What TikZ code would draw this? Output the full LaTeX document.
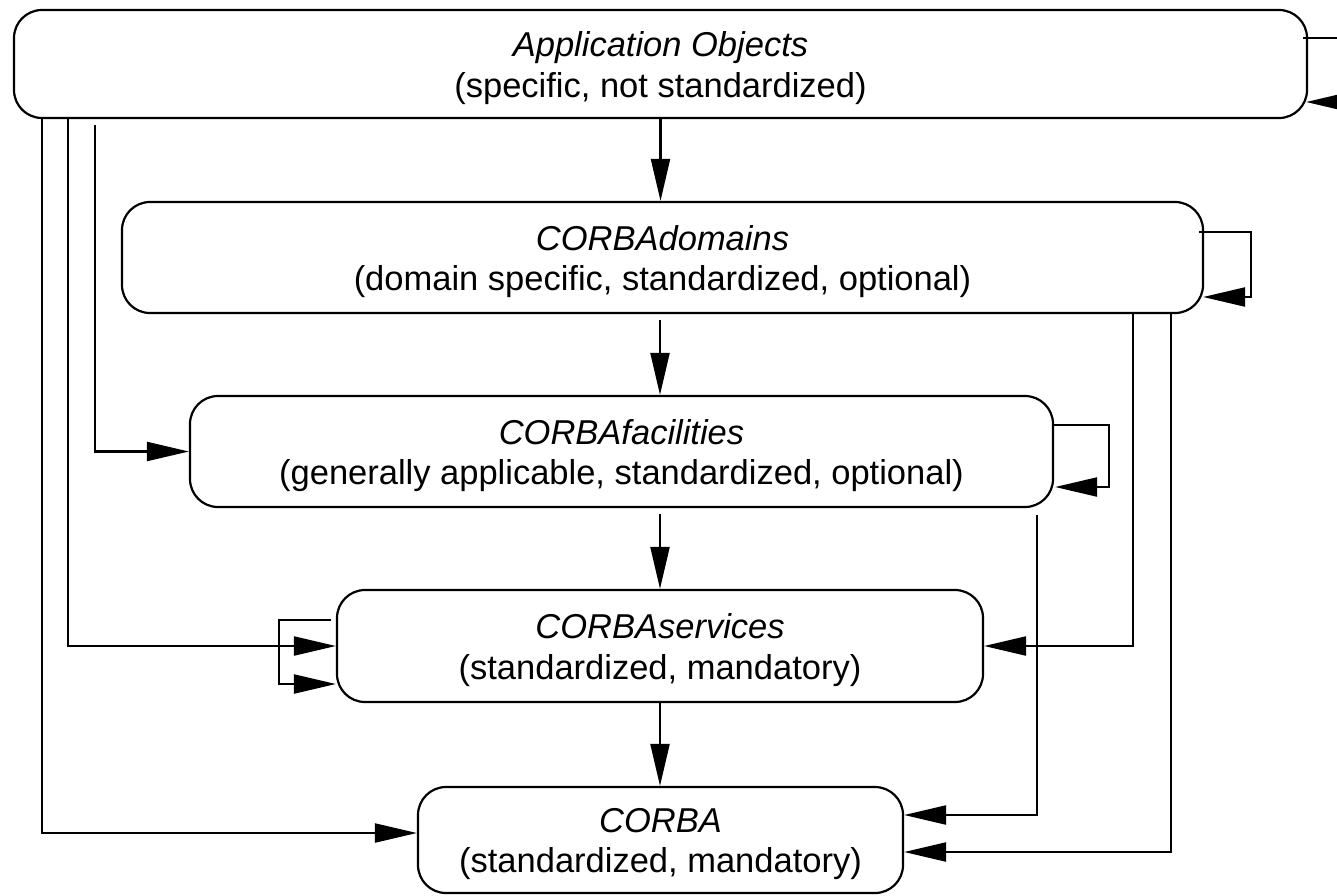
\documentclass[tikz,border=0pt]{standalone}
\usepackage{fontspec}
\setmainfont{Liberation Sans}
\usetikzlibrary{arrows.meta}
\tikzset{
  layer/.style={draw, line width=2.2pt, rounded corners=28pt, inner sep=0pt},
  caption/.style={inner sep=0pt, align=center, yshift=-4pt,
    font=\fontsize{34.5pt}{40.5pt}\selectfont},
  link/.style={draw, line width=2.2pt, -{Triangle[length=42pt,width=19pt]}}
}
\begin{document}
\begin{tikzpicture}[x=1pt,y=-1pt]
\useasboundingbox (0,0) rectangle (1337,895);

% the five layers of the architecture
\node[layer, minimum width=1293pt, minimum height=108pt] (app) at (660.5,64) {};
\node[caption] (appT) at (app.center)
  {\textit{Application Objects}\\(specific, not standardized)};
\node[layer, minimum width=1081pt, minimum height=111pt] (dom) at (662.5,257.5) {};
\node[caption] (domT) at (dom.center)
  {\textit{CORBAdomains}\\(domain specific, standardized, optional)};
\node[layer, minimum width=863pt, minimum height=111pt] (fac) at (621.5,451.5) {};
\node[caption] (facT) at (fac.center)
  {\textit{CORBAfacilities}\\(generally applicable, standardized, optional)};
\node[layer, minimum width=646pt, minimum height=112pt] (srv) at (660,646) {};
\node[caption] (srvT) at (srv.center)
  {\textit{CORBAservices}\\(standardized, mandatory)};
\node[layer, minimum width=485pt, minimum height=106pt] (corba) at (660.5,840) {};
\node[caption] (corbaT) at (corba.center)
  {\textit{CORBA}\\(standardized, mandatory)};

% layer-to-layer dependencies down the middle
\draw[link] (app.south) -- (app.south |- dom.north);
\draw[link] ([yshift=-6pt]dom.south -| srv.south) -- (srv.south |- fac.north);
\draw[link] ([yshift=-6pt]fac.south -| srv.south) -- (srv.south |- srv.north);
\draw[link] (srv.south) -- (srv.south |- corba.north);

% application objects reaching lower layers on the left
\coordinate (xa) at (42,0);
\coordinate (xb) at (68,0);
\coordinate (xc) at (95,0);
\draw[link] (app.south -| xa) |- ([yshift=7pt]corba.west);
\draw[link] (app.south -| xb) |- (srv.west);
\draw[link] ([yshift=-6pt]app.south -| xc) |- (fac.west);

% domain and facility layers reaching lower layers on the right
\coordinate (xd) at (1133,0);
\coordinate (xe) at (1171,0);
\coordinate (xf) at (1037,0);
\draw[link] (dom.south -| xd) |- (srv.east);
\draw[link] (dom.south -| xe) |- ([yshift=-12pt]corba.east);
\draw[link] ([yshift=-7pt]fac.south -| xf) |- ([yshift=25pt]corba.east);

% self references
\draw[link] ([shift={(-5pt,26pt)}]app.east) -- ++(60pt,0) |- ([shift={(-2pt,-38pt)}]app.east);
\draw[link] ([shift={(-5pt,25.5pt)}]dom.east) -| ([shift={(47pt,-39.5pt)}]dom.east) -- ([shift={(-1pt,-39.5pt)}]dom.east);
\draw[link] ([shift={(0pt,26.5pt)}]fac.east) -| ([shift={(55pt,-35.5pt)}]fac.east) -- ([shift={(1pt,-35.5pt)}]fac.east);
\draw[link] ([shift={(-5pt,26pt)}]srv.west) -| ([shift={(-57pt,-38pt)}]srv.west) -- ([shift={(0pt,-38pt)}]srv.west);
\end{tikzpicture}
\end{document}
